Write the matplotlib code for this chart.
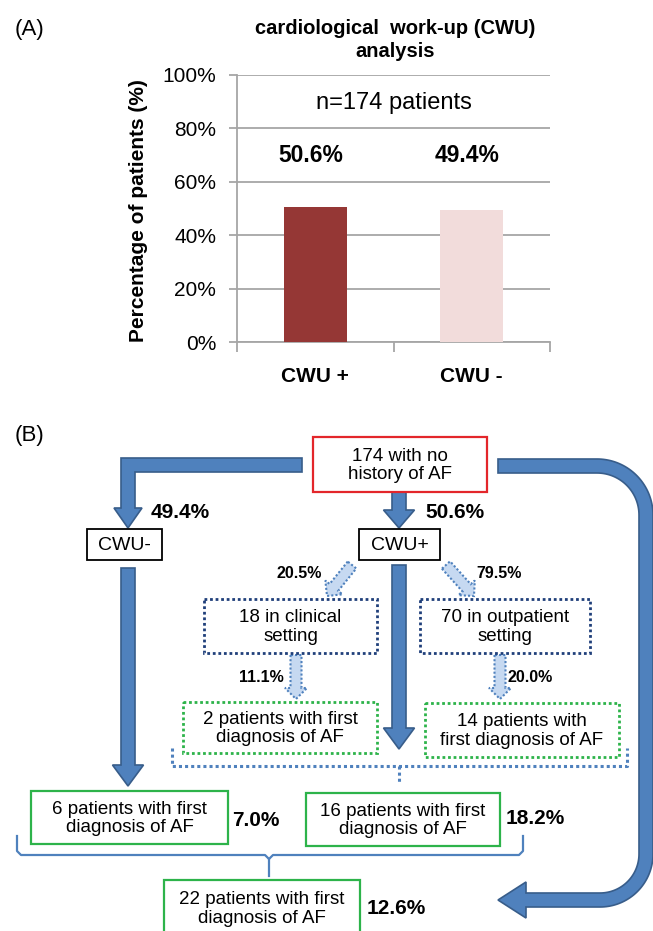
import numpy as np
import matplotlib.pyplot as plt
from matplotlib.patches import Polygon, Rectangle

plt.rcParams['font.family'] = ['Liberation Sans', 'DejaVu Sans']

# ---- data ----
categories = ['CWU +', 'CWU -']
cwu_share = [50.6, 49.4]          # % of patients
bar_colors = ['#953735', '#F2DCDB']
total_n = 174

setting_n = [18, 70]              # clinical, outpatient (CWU+)
setting_share = [20.5, 79.5]
af_setting_n = [2, 14]
af_setting_share = [11.1, 20.0]
af_group_n = [16, 6]              # CWU+, CWU-
af_group_share = [18.2, 7.0]
af_total_n = 22
af_total_share = 12.6

W, H = 653, 931
fig = plt.figure(figsize=(W / 100, H / 100), dpi=100)

GREY = '#A6A6A6'
BLUE = '#4F81BD'
DARKBLUE = '#385D8A'
LIGHTBLUE = '#C6D9F1'
GREEN = '#2DB34A'
NAVY = '#1F3F7A'

# ---- panel A: bar chart ----
ax = fig.add_axes([237 / W, 1 - 342 / H, 313 / W, 267 / H])
x = np.arange(len(categories))
ax.bar(x, cwu_share, width=0.4, color=bar_colors, zorder=3)
ax.set_xlim(-0.5, 1.5)
ax.set_ylim(0, 100)
ax.set_yticks(range(0, 101, 20))
ax.set_yticklabels([f'{v}%' for v in range(0, 101, 20)], fontsize=15)
ax.yaxis.grid(True, color=GREY, lw=1.3)
ax.set_axisbelow(True)
ax.tick_params(axis='y', length=6, color=GREY, width=1.3, pad=9)
ax.set_xticks(x)
ax.set_xticklabels(categories, fontsize=15, fontweight='bold')
ax.tick_params(axis='x', length=0, pad=18)
ax.set_xticks([-0.5, 0.5, 1.5], minor=True)
ax.tick_params(axis='x', which='minor', length=7, color=GREY, width=1.3)
for s in ['top', 'right']:
    ax.spines[s].set_visible(False)
for s in ['left', 'bottom']:
    ax.spines[s].set_color(GREY)
    ax.spines[s].set_linewidth(1.3)

ax.text(0.5, 89.5, f'n={total_n} patients', ha='center', va='center', fontsize=17)
for i, v in enumerate(cwu_share):
    ax.text(i - 0.03, 70, f'{v}%', ha='center', va='center', fontsize=16.5, fontweight='bold')

# ---- overlay for panel B (pixel coordinates) ----
ov = fig.add_axes([0, 0, 1, 1])
ov.set_xlim(0, W)
ov.set_ylim(H, 0)
ov.axis('off')
ov.patch.set_alpha(0)

ov.text(15, 30, '(A)', fontsize=16, va='center', ha='left')
ov.text(395, 40, 'cardiological  work-up (CWU)\nanalysis', fontsize=14.5, fontweight='bold',
        ha='center', va='center', linespacing=1.25)
ov.text(138, 211, 'Percentage of patients (%)', fontsize=15, fontweight='bold',
        rotation=90, ha='center', va='center')
ov.text(15, 436, '(B)', fontsize=16, va='center', ha='left')


def arrow(p0, p1, sw, hw, hl, fc=BLUE, ec=DARKBLUE, ls='-', lw=1.2, z=2):
    p0 = np.array(p0, float)
    p1 = np.array(p1, float)
    d = (p1 - p0) / np.linalg.norm(p1 - p0)
    n = np.array([-d[1], d[0]])
    b = p1 - d * hl
    pts = [p0 + n * sw / 2, b + n * sw / 2, b + n * hw / 2, p1,
           b - n * hw / 2, b - n * sw / 2, p0 - n * sw / 2]
    ov.add_patch(Polygon(pts, closed=True, fc=fc, ec=ec, ls=ls, lw=lw, zorder=z))


def box(x0, y0, x1, y1, ec, ls='-', lw=1.6, text='', fs=13.5):
    ov.add_patch(Rectangle((x0, y0), x1 - x0, y1 - y0, fc='white', ec=ec, ls=ls, lw=lw, zorder=3))
    if text:
        ov.text((x0 + x1) / 2, (y0 + y1) / 2 + 1, text, ha='center', va='center',
                fontsize=fs, linespacing=1.15, zorder=4)


# left L-shaped arrow from the top box to CWU-
left_pts = [(302, 458), (121, 458), (121, 508), (114, 508), (128, 528),
            (142, 508), (135, 508), (135, 472), (302, 472)]
ov.add_patch(Polygon(left_pts, closed=True, fc=BLUE, ec=DARKBLUE, lw=1.2, zorder=2))


# right curved arrow to the final box
def arc(c, r, a0, a1, n=40):
    t = np.radians(np.linspace(a0, a1, n))
    return list(zip(c[0] + r * np.cos(t), c[1] + r * np.sin(t)))


w = 7
c1, r1 = (597, 515), 49
c2, r2 = (600, 854), 46
outer = [(498, 466 - w)] + arc(c1, r1 + w, -90, 0) + arc(c2, r2 + w, 0, 90) + \
        [(526, 900 + w), (526, 918), (498, 900), (526, 882), (526, 900 - w)]
inner = arc(c2, r2 - w, 90, 0) + arc(c1, r1 - w, 0, -90) + [(498, 466 + w)]
ov.add_patch(Polygon(outer + inner, closed=True, fc=BLUE, ec=DARKBLUE, lw=1.2, zorder=2))

# straight main arrows
arrow((399, 492), (399, 528), 14, 31, 18)
arrow((128, 568), (128, 786), 14, 31, 21)
arrow((399, 565), (399, 749), 14, 31, 21)

# dotted small arrows
dot = dict(fc=LIGHTBLUE, ec=BLUE, ls=(0, (1, 1)), lw=1.5)
arrow((352, 565), (327, 596), 11, 22, 11, **dot)
arrow((446, 565), (474, 596), 11, 22, 11, **dot)
arrow((296, 655), (296, 699), 11, 22, 11, **dot)
arrow((500, 655), (500, 699), 11, 22, 11, **dot)

# boxes
box(313, 437, 487, 492, '#E3262B', text=f'{total_n} with no\nhistory of AF', fs=13.5)
box(87, 529, 162, 560, 'black', lw=1.3, text='CWU-', fs=14)
box(359, 529, 440, 560, 'black', lw=1.3, text='CWU+', fs=14)
box(204, 599, 377, 653, NAVY, ls=(0, (1, 1)), lw=2,
    text=f'{setting_n[0]} in clinical\nsetting', fs=13.5)
box(420, 599, 590, 653, NAVY, ls=(0, (1, 1)), lw=2,
    text=f'{setting_n[1]} in outpatient\nsetting', fs=13.5)
box(183, 702, 377, 753, GREEN, ls=(0, (1, 1)), lw=2,
    text=f'{af_setting_n[0]} patients with first\ndiagnosis of AF', fs=13.5)
box(425, 703, 619, 757, GREEN, ls=(0, (1, 1)), lw=2,
    text=f'{af_setting_n[1]} patients with\nfirst diagnosis of AF', fs=13.5)
box(31, 791, 228, 844, GREEN, text=f'{af_group_n[1]} patients with first\ndiagnosis of AF', fs=13.5)
box(306, 793, 500, 846, GREEN, text=f'{af_group_n[0]} patients with first\ndiagnosis of AF', fs=13.5)
box(164, 880, 360, 936, GREEN, text=f'{af_total_n} patients with first\ndiagnosis of AF', fs=13.5)

# brackets
ov.plot([172, 172, 627, 627], [748, 766, 766, 748], color=BLUE, lw=2.2, ls=(0, (1, 1)), zorder=1)
ov.plot([399, 399], [766, 782], color=BLUE, lw=2.2, ls=(0, (1, 1)), zorder=1)
ov.plot([17, 17, 21, 265, 269, 273, 519, 523, 523],
        [836, 851, 855, 855, 859, 855, 855, 851, 836], color=BLUE, lw=1.6, zorder=1)
ov.plot([269, 269], [859, 876], color=BLUE, lw=1.6, zorder=1)

# percentages
big = dict(fontsize=15, fontweight='bold', va='center')
small = dict(fontsize=11.5, fontweight='bold', va='center')
ov.text(151, 513, f'{cwu_share[1]}%', ha='left', **big)
ov.text(425, 513, f'{cwu_share[0]}%', ha='left', **big)
ov.text(322, 574, f'{setting_share[0]}%', ha='right', **small)
ov.text(476, 574, f'{setting_share[1]}%', ha='left', **small)
ov.text(284, 677, f'{af_setting_share[0]}%', ha='right', **small)
ov.text(507, 677, f'{af_setting_share[1]:.1f}%', ha='left', **small)
ov.text(232, 820, f'{af_group_share[1]:.1f}%', ha='left', **big)
ov.text(506, 818, f'{af_group_share[0]}%', ha='left', **big)
ov.text(367, 908, f'{af_total_share}%', ha='left', **big)

fig.savefig('out.png', dpi=100)
